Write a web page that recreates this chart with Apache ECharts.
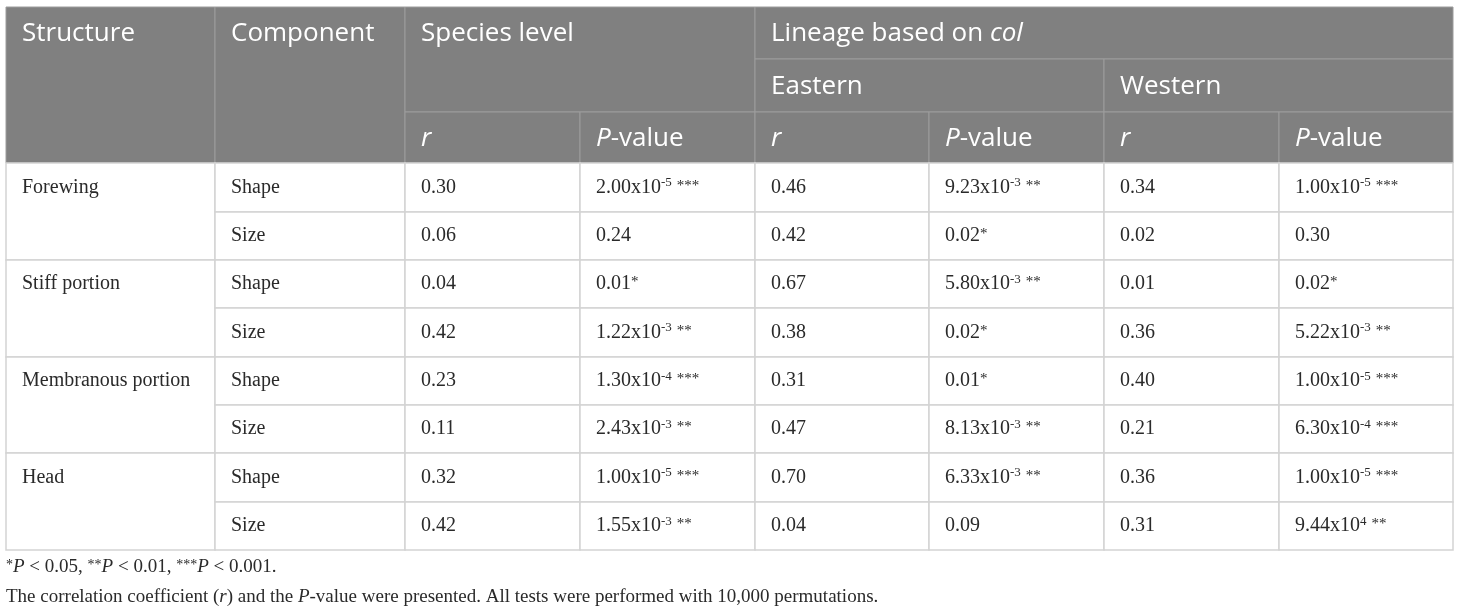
<!DOCTYPE html>
<html>
<head>
<meta charset="utf-8">
<script src="https://cdn.jsdelivr.net/npm/echarts@6/dist/echarts.min.js"></script>
<style>html,body{margin:0;padding:0;background:#fff}#c{width:1460px;height:612px}</style>
</head>
<body>
<div id="c"></div>
<script>
// ---- data ----
var structures = ['Forewing', 'Stiff portion', 'Membranous portion', 'Head'];
var components = ['Shape', 'Size'];
var speciesR = [0.30, 0.06, 0.04, 0.42, 0.23, 0.11, 0.32, 0.42];
var speciesP = ['2.00x10^-5 ***', '0.24', '0.01*', '1.22x10^-3 **', '1.30x10^-4 ***', '2.43x10^-3 **', '1.00x10^-5 ***', '1.55x10^-3 **'];
var easternR = [0.46, 0.42, 0.67, 0.38, 0.31, 0.47, 0.70, 0.04];
var easternP = ['9.23x10^-3 **', '0.02*', '5.80x10^-3 **', '0.02*', '0.01*', '8.13x10^-3 **', '6.33x10^-3 **', '0.09'];
var westernR = [0.34, 0.02, 0.01, 0.36, 0.40, 0.21, 0.36, 0.31];
var westernP = ['1.00x10^-5 ***', '0.30', '0.02*', '5.22x10^-3 **', '1.00x10^-5 ***', '6.30x10^-4 ***', '1.00x10^-5 ***', '9.44x10^4 **'];
var footnote1 = '{st|*}{fi|P}{f| < 0.05, }{st|**}{fi|P}{f| < 0.01, }{st|***}{fi|P}{f| < 0.001.}';
var footnote2 = '{f|The correlation coefficient (}{fi|r}{f|) and the }{fi|P}{f|-value were presented. All tests were performed with 10,000 permutations.}';

// ---- layout (table geometry in axis units) ----
var colEdges = [0, 209, 399, 574, 749, 923, 1098, 1273, 1447];
var rowEdges = [0, 52, 105, 156, 205, 253, 301, 350, 398, 446, 495, 543];

function pRich(s) {
  var m = s.match(/^([\d.]+)(x10\^(-?\d+))?\s?(\**)$/);
  var out = '';
  if (m[2]) {
    out += '{b|' + m[1] + 'x10}{sup|' + m[3] + '}';
    if (m[4]) out += '{b| }{st|' + m[4] + '}';
  } else {
    out += '{b|' + m[1] + '}';
    if (m[4]) out += '{st|' + m[4] + '}';
  }
  return out;
}

var cells = [];
function addCell(c0, c1, r0, r1, text, header) {
  cells.push({c0: c0, c1: c1, r0: r0, r1: r1, text: text, header: header});
}
// header
addCell(0, 1, 0, 3, '{h|Structure}', true);
addCell(1, 2, 0, 3, '{h|Component}', true);
addCell(2, 4, 0, 2, '{h|Species level}', true);
addCell(4, 8, 0, 1, '{h|Lineage based on }{hi|col}', true);
addCell(4, 6, 1, 2, '{h|Eastern}', true);
addCell(6, 8, 1, 2, '{h|Western}', true);
for (var k = 0; k < 3; k++) {
  addCell(2 + 2 * k, 3 + 2 * k, 2, 3, '{hi|r}', true);
  addCell(3 + 2 * k, 4 + 2 * k, 2, 3, '{hi|P}{h|-value}', true);
}
// body
for (var i = 0; i < structures.length; i++) {
  addCell(0, 1, 3 + 2 * i, 5 + 2 * i, '{b|' + structures[i] + '}', false);
}
for (var j = 0; j < speciesR.length; j++) {
  var r = 3 + j;
  addCell(1, 2, r, r + 1, '{b|' + components[j % 2] + '}', false);
  addCell(2, 3, r, r + 1, '{b|' + speciesR[j].toFixed(2) + '}', false);
  addCell(3, 4, r, r + 1, pRich(speciesP[j]), false);
  addCell(4, 5, r, r + 1, '{b|' + easternR[j].toFixed(2) + '}', false);
  addCell(5, 6, r, r + 1, pRich(easternP[j]), false);
  addCell(6, 7, r, r + 1, '{b|' + westernR[j].toFixed(2) + '}', false);
  addCell(7, 8, r, r + 1, pRich(westernP[j]), false);
}

var data = cells.map(function (c) {
  return [colEdges[c.c0], colEdges[c.c1], rowEdges[c.r0], rowEdges[c.r1], (rowEdges[c.r0] + rowEdges[c.r0 + 1]) / 2];
});

var SANS = '"Open Sans", "Noto Sans", sans-serif';
var SERIF = '"Liberation Serif", "DejaVu Serif", serif';
var TXT = '#2a2a2a';
var richStyles = {
  h: {fontFamily: SANS, fontSize: 26, fill: '#fff', color: '#fff', lineHeight: 32},
  hi: {fontFamily: SANS, fontSize: 26, fontStyle: 'italic', fill: '#fff', color: '#fff', lineHeight: 32},
  b: {fontFamily: SERIF, fontSize: 20, fill: TXT, color: TXT, lineHeight: 24},
  sup: {fontFamily: SERIF, fontSize: 13, fill: TXT, color: TXT, lineHeight: 14, verticalAlign: 'top', padding: [1, 0, 0, 0]},
  st: {fontFamily: SERIF, fontSize: 15, fill: TXT, color: TXT, lineHeight: 15, verticalAlign: 'top', padding: [3, 0, 0, 0]}
};

var chart = echarts.init(document.getElementById('c'), null, {renderer: 'canvas'});
chart.setOption({
  animation: false,
  backgroundColor: '#fff',
  title: [
    {text: footnote1, left: 6, top: 555, padding: 0,
      textStyle: {fontWeight: 'normal', rich: {
        f: {fontFamily: SERIF, fontSize: 19, fontWeight: 'normal', color: TXT, lineHeight: 24},
        fi: {fontFamily: SERIF, fontSize: 19, fontWeight: 'normal', fontStyle: 'italic', color: TXT, lineHeight: 24},
        st: {fontFamily: SERIF, fontSize: 14, fontWeight: 'normal', color: TXT, lineHeight: 14, verticalAlign: 'top', padding: [3, 0, 0, 0]}
      }}},
    {text: footnote2, left: 6, top: 585, padding: 0,
      textStyle: {fontWeight: 'normal', rich: {
        f: {fontFamily: SERIF, fontSize: 19, fontWeight: 'normal', color: TXT, lineHeight: 24},
        fi: {fontFamily: SERIF, fontSize: 19, fontWeight: 'normal', fontStyle: 'italic', color: TXT, lineHeight: 24}
      }}}
  ],
  grid: {left: 6, top: 7, width: 1447, height: 543, containLabel: false},
  xAxis: {type: 'value', min: 0, max: 1447, show: false},
  yAxis: {type: 'value', min: 0, max: 543, inverse: true, show: false},
  series: [{
    type: 'custom',
    coordinateSystem: 'cartesian2d',
    encode: {x: [0, 1], y: [2, 3, 4]},
    data: data,
    clip: false,
    renderItem: function (params, api) {
      var c = cells[params.dataIndex];
      var p0 = api.coord([api.value(0), api.value(2)]);
      var p1 = api.coord([api.value(1), api.value(3)]);
      var pm = api.coord([api.value(0), api.value(4)]);
      return {
        type: 'group',
        children: [
          {type: 'rect', shape: {x: p0[0], y: p0[1], width: p1[0] - p0[0], height: p1[1] - p0[1]},
            style: {fill: c.header ? '#808080' : '#ffffff', stroke: c.header ? '#9c9c9c' : '#d3d3d3', lineWidth: c.header ? 1 : 1.5}},
          {type: 'text', z2: 10, style: {text: c.text, x: p0[0] + 16, y: pm[1] + (c.header ? 1 : 0), align: 'left', verticalAlign: 'middle', rich: richStyles}}
        ]
      };
    }
  }]
});
</script>
</body>
</html>
